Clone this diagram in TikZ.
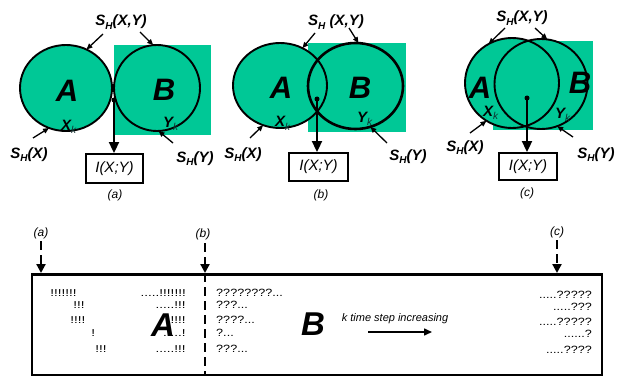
\documentclass[tikz,border=0pt]{standalone}
\usepackage{fontspec}
\setmainfont{Liberation Sans}
\usetikzlibrary{arrows.meta,shapes.geometric}
\definecolor{vgreen}{HTML}{00C896}
\definecolor{subk}{HTML}{103030}
\newcommand{\SHsub}{S\raisebox{-3.5pt}{\fontsize{10}{10}\selectfont H}}
\newcommand{\Xsub}[1]{#1\raisebox{-3pt}{\fontsize{10}{10}\selectfont\mdseries\color{subk}k}}
\begin{document}
\begin{tikzpicture}[x=1pt,y=-1pt,
  lbl/.style={font=\fontsize{15}{15}\selectfont\bfseries\itshape, inner sep=0, anchor=base},
  bigletter/.style={font=\fontsize{31}{31}\selectfont\bfseries\itshape, inner sep=0},
  xk/.style={font=\fontsize{15}{15}\selectfont\bfseries\itshape, inner sep=0, anchor=base west},
  thinarrow/.style={line width=1.3pt, -{Triangle[length=6pt,width=5pt]}},
  bigarrow/.style={line width=2pt, -{Triangle[length=11pt,width=10pt]}},
  venn/.style={ellipse, draw, line width=1.9pt, inner sep=0, outer sep=0},
  ibox/.style={draw, line width=1.9pt, inner sep=0, font=\fontsize{15}{15}\selectfont\itshape},
  dotnode/.style={circle, fill, inner sep=0, minimum size=5pt},
  capt/.style={font=\fontsize{12}{12}\selectfont\itshape, inner sep=0},
  smalltxt/.style={font=\fontsize{10.5}{10.5}\selectfont, inner sep=0, xscale=1.2, transform shape},
  bangtxt/.style={font=\fontsize{10}{10}\selectfont, inner sep=0, xscale=1.35, transform shape},
  dasharrow/.style={line width=2.2pt, dash pattern=on 9pt off 5pt, -{Triangle[length=9pt,width=9pt]}},
  dashline/.style={line width=2.2pt, dash pattern=on 9pt off 5pt},
]
\useasboundingbox (0,0) rectangle (623,377);

% ---------------- panel (a)
\fill[vgreen] (114,45) rectangle (211,135);
\fill[vgreen] (66,88) ellipse [x radius=46pt, y radius=43pt];
\fill[vgreen] (157,88) ellipse [x radius=43pt, y radius=43pt];
\node[venn, minimum width=92pt, minimum height=86pt] (aA) at (66,88) {};
\node[venn, minimum width=86pt, minimum height=86pt] (aB) at (157,88) {};
\node[bigletter] (aAl) at (67,91) {A};
\node[bigletter] (aBl) at (164,90) {B};
\node[xk] (aX) at (61,130) {\Xsub{X}};
\node[xk] (aY) at (163,128) {\Xsub{Y}};
\node[lbl] (aSXY) at (121,26) {\SHsub(X,Y)};
\node[lbl] (aSX) at (29,158) {\SHsub(X)};
\node[lbl] (aSY) at (195,162) {\SHsub(Y)};
\coordinate (aT1) at (103,34);
\coordinate (aT2) at (140,32);
\coordinate (aT3) at (33,138);
\coordinate (aT4) at (173,143);
\draw[thinarrow] (aT1) -- (aA.62);
\draw[thinarrow] (aT2) -- (aB.95);
\draw[thinarrow] (aT3) -- (aA.247);
\draw[thinarrow] (aT4) -- (aB.272);
\node[dotnode] (aD) at (114,100) {};
\node[ibox, minimum width=57pt, minimum height=29pt] (aI) at (114.5,168.5) {I(X;Y)};
\draw[bigarrow] (aD.center) -- (aD |- aI.north);
\node[capt] (aC) at (115,195) {(a)};

% ---------------- panel (b)
\fill[vgreen] (308,43) rectangle (406,132);
\fill[vgreen] (280,85.5) ellipse [x radius=47pt, y radius=42.5pt];
\fill[vgreen] (355.5,86) ellipse [x radius=47.5pt, y radius=43pt];
\node[venn, minimum width=94pt, minimum height=85pt] (bA) at (280,85.5) {};
\node[venn, line width=2.6pt, minimum width=95pt, minimum height=86pt] (bB) at (355.5,86) {};
\node[bigletter] (bAl) at (281,88) {A};
\node[bigletter] (bBl) at (360,88) {B};
\node[xk] (bX) at (275,127) {\Xsub{X}};
\node[xk] (bY) at (357,122) {\Xsub{Y}};
\node[lbl] (bSXY) at (336,26) {\SHsub\ (X,Y)};
\node[lbl] (bSX) at (243,158) {\SHsub(X)};
\node[lbl] (bSY) at (408,160) {\SHsub(Y)};
\coordinate (bT1) at (315,33);
\coordinate (bT2) at (349,28);
\coordinate (bT3) at (250,138);
\coordinate (bT4) at (387,143);
\draw[thinarrow] (bT1) -- (bA.59);
\draw[thinarrow] (bT2) -- (bB.86);
\draw[thinarrow] (bT3) -- (bA.247);
\draw[thinarrow] (bT4) -- (bB.290);
\node[dotnode] (bD) at (317,99) {};
\node[ibox, minimum width=59pt, minimum height=28pt] (bI) at (318.5,167) {I(X;Y)};
\draw[bigarrow] (bD.center) -- (bD |- bI.north);
\node[capt] (bC) at (321,195) {(b)};

% ---------------- panel (c)
\fill[vgreen] (493,41) rectangle (593,130);
\fill[vgreen] (512,83) ellipse [x radius=47pt, y radius=45pt];
\fill[vgreen] (541,84) ellipse [x radius=46.5pt, y radius=45pt];
\node[venn, minimum width=94pt, minimum height=90pt] (cA) at (512,83) {};
\node[venn, minimum width=93pt, minimum height=90pt] (cB) at (541,84) {};
\node[bigletter] (cAl) at (480,88) {A};
\node[bigletter] (cBl) at (580,83) {B};
\node[xk] (cX) at (483,117) {\Xsub{X}};
\node[xk] (cY) at (555,118) {\Xsub{Y}};
\node[lbl] (cSXY) at (522,22) {\SHsub(X,Y)};
\node[lbl] (cSX) at (465,151) {\SHsub(X)};
\node[lbl] (cSY) at (596,158) {\SHsub(Y)};
\coordinate (cT1) at (505,28);
\coordinate (cT2) at (535,28);
\coordinate (cT3) at (470,133);
\coordinate (cT4) at (573,137);
\draw[thinarrow] (cT1) -- (cA.121);
\draw[thinarrow] (cT2) -- (cB.82);
\draw[thinarrow] (cT3) -- (cA.236);
\draw[thinarrow] (cT4) -- (cB.291);
\node[dotnode] (cD) at (527,98) {};
\node[ibox, minimum width=58pt, minimum height=27pt] (cI) at (528,166.5) {I(X;Y)};
\draw[bigarrow] (cD.center) -- (cD |- cI.north);
\node[capt] (cC) at (527,193) {(c)};

% ---------------- bottom strip
\node[draw, line width=2pt, minimum width=570pt, minimum height=100pt, inner sep=0] (bar) at (317,325) {};
\draw[line width=3pt] (bar.north west) -- (bar.north east);
\node[capt] (la) at (41,233) {(a)};
\node[capt] (lb) at (203,234) {(b)};
\node[capt] (lc) at (557,232) {(c)};
\coordinate (sa) at (41,241);
\coordinate (sb) at (205,243);
\coordinate (sc) at (557,240);
\coordinate (ta) at (41,273);
\coordinate (tb) at (205,273);
\coordinate (tc) at (557,273);
\draw[dasharrow] (sa) -- (ta);
\draw[dasharrow] (sb) -- (tb);
\draw[dasharrow] (sc) -- (tc);
\draw[dashline] (tb) -- (tb |- bar.south);

% left column of A region
\node[bangtxt, anchor=west] (e1) at (50,293) {!!!!!!!};
\node[bangtxt, anchor=west] (e2) at (73,305) {!!!};
\node[bangtxt, anchor=west] (e3) at (70,320) {!!!!};
\node[bangtxt, anchor=west] (e4) at (91,333) {!};
\node[bangtxt, anchor=west] (e5) at (95,349) {!!!};
\node[bangtxt, anchor=east] (f1) at (186,293) {.....!!!!!!!};
\node[bangtxt, anchor=east] (f2) at (186,305) {.....!!!};
\node[bangtxt, anchor=east] (f3) at (186,320) {!!!!};
\node[bangtxt, anchor=east] (f4) at (186,333) {.....!};
\node[bangtxt, anchor=east] (f5) at (186,349) {.....!!!};
\node[font=\fontsize{33}{33}\selectfont\bfseries\itshape, inner sep=0] (bigA) at (163,325) {A};

% B region
\node[smalltxt, anchor=west] (g1) at (216,293) {????????...};
\node[smalltxt, anchor=west] (g2) at (216,305) {???...};
\node[smalltxt, anchor=west] (g3) at (216,320) {????...};
\node[smalltxt, anchor=west] (g4) at (216,333) {?...};
\node[smalltxt, anchor=west] (g5) at (216,349) {???...};
\node[font=\fontsize{33}{33}\selectfont\bfseries\itshape, inner sep=0] (bigB) at (313,324) {B};
\node[font=\fontsize{11}{11}\selectfont\itshape, inner sep=0] (kts) at (395,319) {k time step increasing};
\coordinate (ks) at (368,332);
\coordinate (ke) at (432,332);
\draw[line width=1.5pt, -{Triangle[length=8pt,width=7pt]}] (ks) -- (ke);
\node[smalltxt, anchor=east] (h1) at (592,295) {.....?????};
\node[smalltxt, anchor=east] (h2) at (592,307) {.....???};
\node[smalltxt, anchor=east] (h3) at (592,322) {.....?????};
\node[smalltxt, anchor=east] (h4) at (592,334) {......?};
\node[smalltxt, anchor=east] (h5) at (592,350) {.....????};
\end{tikzpicture}
\end{document}
